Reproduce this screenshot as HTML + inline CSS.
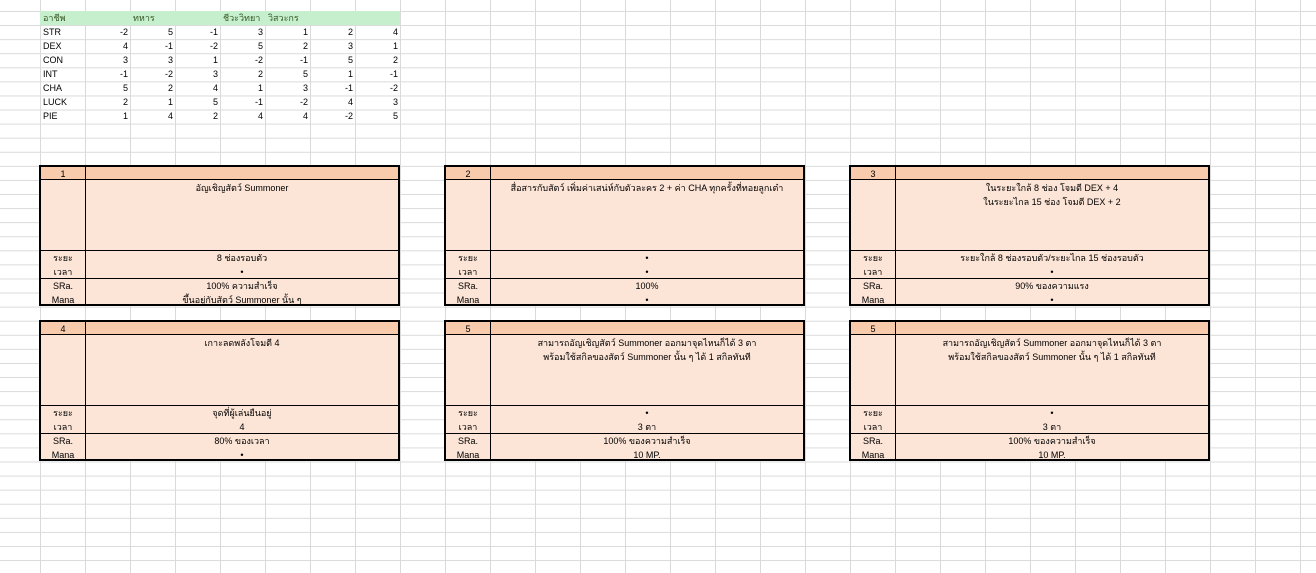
<!DOCTYPE html>
<html><head><meta charset="utf-8"><style>
*{margin:0;padding:0;box-sizing:border-box}
body{width:1316px;height:573px;overflow:hidden;background:#fff;position:relative;font-family:"Liberation Sans",Tahoma,sans-serif;font-size:9px;color:#000;
background-image:linear-gradient(to right,#dadada 1px,transparent 1px),linear-gradient(to bottom,#dadada 1px,transparent 1px);
background-size:45px 14.09px;background-position:40px 11px}
.t{position:absolute;height:14px;line-height:14px;white-space:nowrap}
.r{text-align:right;width:43px}
.box{position:absolute;width:361px;height:141px;border:2px solid #000;background:#fce4d6}
.hd{position:absolute;left:0;top:0;right:0;height:13px;background:#f8cbad;border-bottom:1px solid #000}
.vl{position:absolute;left:44px;top:0;bottom:0;width:1px;background:#000}
.hl{position:absolute;left:0;right:0;height:1px;background:#000}
.c{position:absolute;text-align:center;height:14px;line-height:14px;white-space:nowrap}
.l{left:0;width:44px}.m{left:45px;right:0}
</style></head><body>
<div style="position:absolute;left:40px;top:11px;width:360px;height:14px;background:#c6efce"></div>
<div class="t" style="left:43px;top:11px;color:#375623">อาชีพ</div>
<div class="t" style="left:133px;top:11px;color:#375623">ทหาร</div>
<div class="t" style="left:223px;top:11px;color:#375623">ชีวะวิทยา</div>
<div class="t" style="left:268px;top:11px;color:#375623">วิสวะกร</div>

<div class="t" style="left:43px;top:25px">STR</div><div class="t" style="left:43px;top:39px">DEX</div><div class="t" style="left:43px;top:53px">CON</div><div class="t" style="left:43px;top:67px">INT</div><div class="t" style="left:43px;top:81px">CHA</div><div class="t" style="left:43px;top:95px">LUCK</div><div class="t" style="left:43px;top:109px">PIE</div>

<div class="t r" style="left:85px;top:25px">-2</div><div class="t r" style="left:130px;top:25px">5</div><div class="t r" style="left:175px;top:25px">-1</div><div class="t r" style="left:220px;top:25px">3</div><div class="t r" style="left:265px;top:25px">1</div><div class="t r" style="left:310px;top:25px">2</div><div class="t r" style="left:355px;top:25px">4</div>
<div class="t r" style="left:85px;top:39px">4</div><div class="t r" style="left:130px;top:39px">-1</div><div class="t r" style="left:175px;top:39px">-2</div><div class="t r" style="left:220px;top:39px">5</div><div class="t r" style="left:265px;top:39px">2</div><div class="t r" style="left:310px;top:39px">3</div><div class="t r" style="left:355px;top:39px">1</div>
<div class="t r" style="left:85px;top:53px">3</div><div class="t r" style="left:130px;top:53px">3</div><div class="t r" style="left:175px;top:53px">1</div><div class="t r" style="left:220px;top:53px">-2</div><div class="t r" style="left:265px;top:53px">-1</div><div class="t r" style="left:310px;top:53px">5</div><div class="t r" style="left:355px;top:53px">2</div>
<div class="t r" style="left:85px;top:67px">-1</div><div class="t r" style="left:130px;top:67px">-2</div><div class="t r" style="left:175px;top:67px">3</div><div class="t r" style="left:220px;top:67px">2</div><div class="t r" style="left:265px;top:67px">5</div><div class="t r" style="left:310px;top:67px">1</div><div class="t r" style="left:355px;top:67px">-1</div>
<div class="t r" style="left:85px;top:81px">5</div><div class="t r" style="left:130px;top:81px">2</div><div class="t r" style="left:175px;top:81px">4</div><div class="t r" style="left:220px;top:81px">1</div><div class="t r" style="left:265px;top:81px">3</div><div class="t r" style="left:310px;top:81px">-1</div><div class="t r" style="left:355px;top:81px">-2</div>
<div class="t r" style="left:85px;top:95px">2</div><div class="t r" style="left:130px;top:95px">1</div><div class="t r" style="left:175px;top:95px">5</div><div class="t r" style="left:220px;top:95px">-1</div><div class="t r" style="left:265px;top:95px">-2</div><div class="t r" style="left:310px;top:95px">4</div><div class="t r" style="left:355px;top:95px">3</div>
<div class="t r" style="left:85px;top:109px">1</div><div class="t r" style="left:130px;top:109px">4</div><div class="t r" style="left:175px;top:109px">2</div><div class="t r" style="left:220px;top:109px">4</div><div class="t r" style="left:265px;top:109px">4</div><div class="t r" style="left:310px;top:109px">-2</div><div class="t r" style="left:355px;top:109px">5</div>

<!-- box 1 -->
<div class="box" style="left:39px;top:165px">
<div class="hd"></div><div class="vl"></div><div class="hl" style="top:83px"></div><div class="hl" style="top:111px"></div>
<div class="c l" style="top:0">1</div>
<div class="c m" style="top:14px">อัญเชิญสัตว์ Summoner</div>
<div class="c l" style="top:84px">ระยะ</div><div class="c l" style="top:98px">เวลา</div><div class="c l" style="top:112px">SRa.</div><div class="c l" style="top:126px">Mana</div>
<div class="c m" style="top:84px">8 ช่องรอบตัว</div><div class="c m" style="top:98px">•</div><div class="c m" style="top:112px">100% ความสำเร็จ</div><div class="c m" style="top:126px">ขึ้นอยู่กับสัตว์ Summoner นั้น ๆ</div>
</div>
<!-- box 2 -->
<div class="box" style="left:444px;top:165px">
<div class="hd"></div><div class="vl"></div><div class="hl" style="top:83px"></div><div class="hl" style="top:111px"></div>
<div class="c l" style="top:0">2</div>
<div class="c m" style="top:14px">สื่อสารกับสัตว์ เพิ่มค่าเสน่ห์กับตัวละคร 2 + ค่า CHA ทุกครั้งที่ทอยลูกเต๋า</div>
<div class="c l" style="top:84px">ระยะ</div><div class="c l" style="top:98px">เวลา</div><div class="c l" style="top:112px">SRa.</div><div class="c l" style="top:126px">Mana</div>
<div class="c m" style="top:84px">•</div><div class="c m" style="top:98px">•</div><div class="c m" style="top:112px">100%</div><div class="c m" style="top:126px">•</div>
</div>
<!-- box 3 -->
<div class="box" style="left:849px;top:165px">
<div class="hd"></div><div class="vl"></div><div class="hl" style="top:83px"></div><div class="hl" style="top:111px"></div>
<div class="c l" style="top:0">3</div>
<div class="c m" style="top:14px">ในระยะใกล้ 8 ช่อง โจมตี DEX + 4</div><div class="c m" style="top:28px">ในระยะไกล 15 ช่อง โจมตี DEX + 2</div>
<div class="c l" style="top:84px">ระยะ</div><div class="c l" style="top:98px">เวลา</div><div class="c l" style="top:112px">SRa.</div><div class="c l" style="top:126px">Mana</div>
<div class="c m" style="top:84px">ระยะใกล้ 8 ช่องรอบตัว/ระยะไกล 15 ช่องรอบตัว</div><div class="c m" style="top:98px">•</div><div class="c m" style="top:112px">90% ของความแรง</div><div class="c m" style="top:126px">•</div>
</div>
<!-- box 4 -->
<div class="box" style="left:39px;top:320px">
<div class="hd"></div><div class="vl"></div><div class="hl" style="top:83px"></div><div class="hl" style="top:111px"></div>
<div class="c l" style="top:0">4</div>
<div class="c m" style="top:14px">เกาะลดพลังโจมตี 4</div>
<div class="c l" style="top:84px">ระยะ</div><div class="c l" style="top:98px">เวลา</div><div class="c l" style="top:112px">SRa.</div><div class="c l" style="top:126px">Mana</div>
<div class="c m" style="top:84px">จุดที่ผู้เล่นยืนอยู่</div><div class="c m" style="top:98px">4</div><div class="c m" style="top:112px">80% ของเวลา</div><div class="c m" style="top:126px">•</div>
</div>
<!-- box 5 -->
<div class="box" style="left:444px;top:320px">
<div class="hd"></div><div class="vl"></div><div class="hl" style="top:83px"></div><div class="hl" style="top:111px"></div>
<div class="c l" style="top:0">5</div>
<div class="c m" style="top:14px">สามารถอัญเชิญสัตว์  Summoner ออกมาจุดไหนก็ได้ 3 ตา</div><div class="c m" style="top:28px">พร้อมใช้สกิลของสัตว์  Summoner นั้น ๆ ได้ 1 สกิลทันที</div>
<div class="c l" style="top:84px">ระยะ</div><div class="c l" style="top:98px">เวลา</div><div class="c l" style="top:112px">SRa.</div><div class="c l" style="top:126px">Mana</div>
<div class="c m" style="top:84px">•</div><div class="c m" style="top:98px">3 ตา</div><div class="c m" style="top:112px">100% ของความสำเร็จ</div><div class="c m" style="top:126px">10 MP.</div>
</div>
<!-- box 6 -->
<div class="box" style="left:849px;top:320px">
<div class="hd"></div><div class="vl"></div><div class="hl" style="top:83px"></div><div class="hl" style="top:111px"></div>
<div class="c l" style="top:0">5</div>
<div class="c m" style="top:14px">สามารถอัญเชิญสัตว์  Summoner ออกมาจุดไหนก็ได้ 3 ตา</div><div class="c m" style="top:28px">พร้อมใช้สกิลของสัตว์  Summoner นั้น ๆ ได้ 1 สกิลทันที</div>
<div class="c l" style="top:84px">ระยะ</div><div class="c l" style="top:98px">เวลา</div><div class="c l" style="top:112px">SRa.</div><div class="c l" style="top:126px">Mana</div>
<div class="c m" style="top:84px">•</div><div class="c m" style="top:98px">3 ตา</div><div class="c m" style="top:112px">100% ของความสำเร็จ</div><div class="c m" style="top:126px">10 MP.</div>
</div>
</body></html>
